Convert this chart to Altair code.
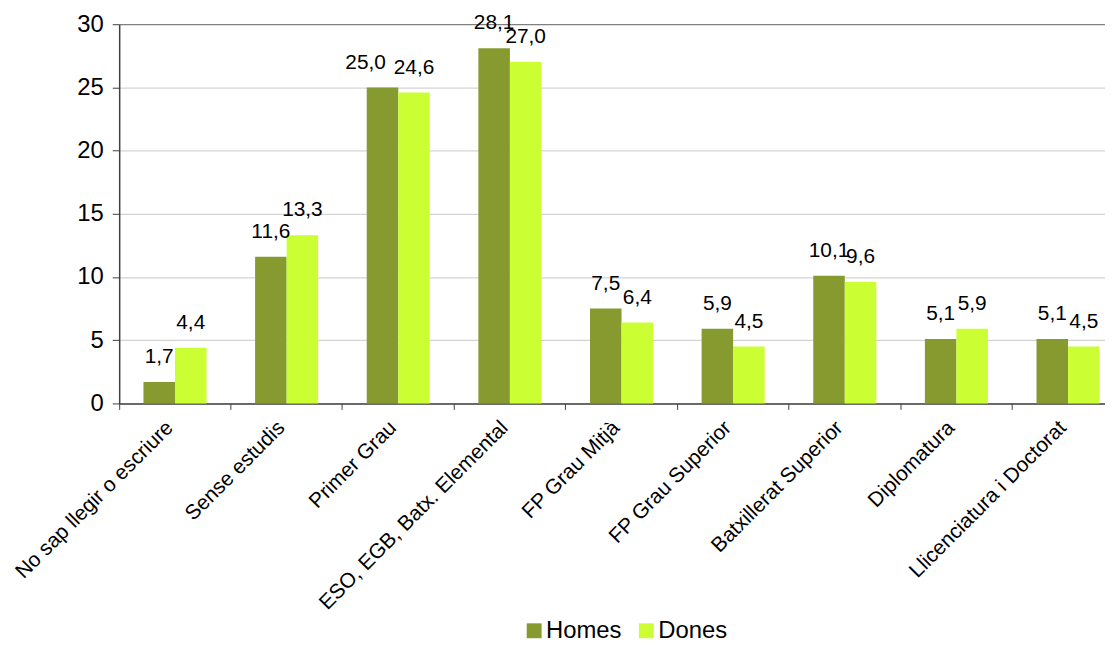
import altair as alt
import pandas as pd

categories = [
    "No sap llegir o escriure",
    "Sense estudis",
    "Primer Grau",
    "ESO, EGB, Batx. Elemental",
    "FP Grau Mitjà",
    "FP Grau Superior",
    "Batxillerat Superior",
    "Diplomatura",
    "Llicenciatura i Doctorat",
]
series = ["Homes", "Dones"]
homes = [1.7, 11.6, 25.0, 28.1, 7.5, 5.9, 10.1, 5.1, 5.1]
dones = [4.4, 13.3, 24.6, 27.0, 6.4, 4.5, 9.6, 5.9, 4.5]
colors = ["#869a30", "#ccff33"]
y_ticks = [0, 5, 10, 15, 20, 25, 30]

rows = []
for c, h, d in zip(categories, homes, dones):
    for s, v in ((series[0], h), (series[1], d)):
        rows.append({"cat": c, "serie": s, "value": v,
                     "label": f"{v:.1f}".replace(".", ",")})
df = pd.DataFrame(rows)

FONT = "Liberation Sans"

x_enc = alt.X(
    "cat:N", sort=categories, title=None,
    scale=alt.Scale(rangeMax=1012, paddingInner=0, paddingOuter=0),
    axis=alt.Axis(
        bandPosition=0, labelOffset=-5, labelAngle=-45, labelAlign="right",
        labelBaseline="middle", labelFontSize=21, labelColor="#000000",
        labelFont=FONT, tickSize=6, tickColor="#404040", domainColor="#404040",
        domainWidth=1.5, labelPadding=15, grid=False, labelLimit=400,
    ),
)
xoff = alt.XOffset("serie:N", sort=series,
                   scale=alt.Scale(paddingInner=0, paddingOuter=0.77))
y_enc = alt.Y(
    "value:Q", title=None,
    scale=alt.Scale(domain=[0, 30], nice=False),
    axis=alt.Axis(
        values=y_ticks, labelFontSize=24, labelFont=FONT, labelColor="#000000",
        tickSize=7, tickColor="#404040", domainColor="#404040", domainWidth=1.5,
        labelPadding=9,
        gridColor={"condition": {"test": "datum.value === 30", "value": "#808080"},
                   "value": "#d4d4d4"},
        gridWidth=1.3,
    ),
)

bars = alt.Chart(df).mark_bar().encode(
    x=x_enc, xOffset=xoff, y=y_enc,
    color=alt.Color(
        "serie:N", sort=series,
        scale=alt.Scale(domain=series, range=colors),
        legend=alt.Legend(
            title=None, orient="none", direction="horizontal",
            legendX=406, legendY=599, symbolType="square", symbolSize=225,
            symbolStrokeWidth=0, labelFontSize=24, labelFont=FONT,
            labelColor="#000000", labelOffset=0, columnPadding=12, padding=0,
        ),
    ),
)

is_shifted = (alt.datum.cat == categories[2]) & (alt.datum.serie == series[0])

text_style = dict(baseline="alphabetic", dy=-19, fontSize=21, font=FONT,
                  color="#000000")
texts = alt.Chart(df).mark_text(**text_style).encode(
    x=x_enc, xOffset=xoff, y=y_enc, text="label:N"
).transform_filter(~is_shifted)
texts_shift = alt.Chart(df).mark_text(dx=-17, **text_style).encode(
    x=x_enc, xOffset=xoff, y=y_enc, text="label:N"
).transform_filter(is_shifted)

chart = (
    alt.layer(bars, texts, texts_shift)
    .properties(
        width=993, height=382,
        autosize=alt.AutoSizeParams(type="none"),
        padding={"left": 112, "top": 14, "right": 0, "bottom": 238},
    )
    .configure_view(stroke=None)
)

chart.save("out.html", embed_options={"renderer": "svg", "actions": False})
